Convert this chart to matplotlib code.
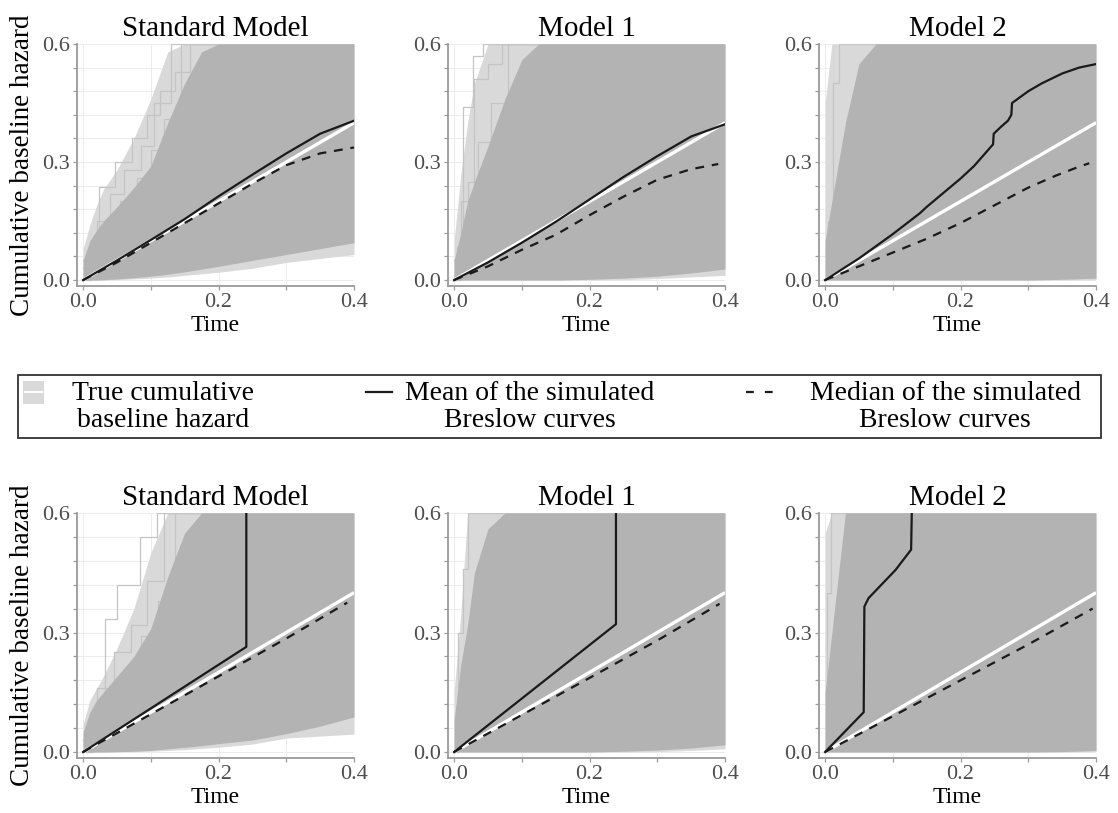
import numpy as np
import matplotlib
matplotlib.use('Agg')
import matplotlib.pyplot as plt
from matplotlib.patches import Rectangle
from matplotlib.lines import Line2D

plt.rcParams['font.family'] = ['Liberation Serif', 'DejaVu Serif']

# time grid for the envelopes of the simulated Breslow curves
t_band = [0, 0.01, 0.02, 0.03, 0.05, 0.075, 0.1, 0.125, 0.15, 0.175, 0.2, 0.25, 0.3, 0.35, 0.4]

# top row (first scenario): dense / sparse envelopes
std1_hi = [0.05, 0.10, 0.127, 0.15, 0.186, 0.235, 0.29, 0.40, 0.50, 0.58, 0.6, 0.6, 0.6, 0.6, 0.6]
std1_sp = [0.08, 0.14, 0.19, 0.23, 0.28, 0.36, 0.46, 0.58, 0.60, 0.60, 0.6, 0.6, 0.6, 0.6, 0.6]
std1_lo = [0, 0, 0, 0.001, 0.003, 0.006, 0.010, 0.015, 0.021, 0.028, 0.035, 0.050, 0.065, 0.080, 0.095]
std1_splo = [0, 0, 0, 0, 0.001, 0.003, 0.005, 0.008, 0.012, 0.016, 0.020, 0.030, 0.045, 0.055, 0.065]
m1a_hi = [0.05, 0.12, 0.20, 0.25, 0.34, 0.46, 0.56, 0.60, 0.6, 0.6, 0.6, 0.6, 0.6, 0.6, 0.6]
m1a_sp = [0.10, 0.27, 0.40, 0.50, 0.60, 0.60, 0.60, 0.60, 0.6, 0.6, 0.6, 0.6, 0.6, 0.6, 0.6]
m1a_lo = [0, 0, 0, 0, 0, 0, 0, 0, 0, 0.001, 0.002, 0.005, 0.010, 0.018, 0.028]
m1a_splo = [0, 0, 0, 0, 0, 0, 0, 0, 0, 0, 0, 0.001, 0.004, 0.008, 0.012]
m2a_hi = [0.10, 0.20, 0.30, 0.40, 0.55, 0.60, 0.6, 0.6, 0.6, 0.6, 0.6, 0.6, 0.6, 0.6, 0.6]
m2a_sp = [0.45, 0.60, 0.60, 0.60, 0.60, 0.60, 0.6, 0.6, 0.6, 0.6, 0.6, 0.6, 0.6, 0.6, 0.6]
m2a_lo = [0, 0, 0, 0, 0, 0, 0, 0, 0, 0, 0, 0, 0, 0.002, 0.005]
m2a_splo = [0, 0, 0, 0, 0, 0, 0, 0, 0, 0, 0, 0, 0, 0, 0.001]

# bottom row (second scenario)
std2_hi = [0.05, 0.10, 0.13, 0.15, 0.19, 0.24, 0.31, 0.44, 0.55, 0.60, 0.6, 0.6, 0.6, 0.6, 0.6]
std2_sp = [0.07, 0.13, 0.16, 0.19, 0.26, 0.36, 0.50, 0.60, 0.60, 0.60, 0.6, 0.6, 0.6, 0.6, 0.6]
std2_lo = [0, 0, 0, 0, 0.001, 0.002, 0.004, 0.008, 0.012, 0.016, 0.021, 0.030, 0.046, 0.065, 0.088]
std2_splo = [0, 0, 0, 0, 0, 0.001, 0.002, 0.004, 0.006, 0.009, 0.012, 0.020, 0.035, 0.040, 0.045]
m1b_hi = [0.08, 0.22, 0.32, 0.45, 0.56, 0.60, 0.6, 0.6, 0.6, 0.6, 0.6, 0.6, 0.6, 0.6, 0.6]
m1b_sp = [0.15, 0.35, 0.60, 0.60, 0.60, 0.60, 0.6, 0.6, 0.6, 0.6, 0.6, 0.6, 0.6, 0.6, 0.6]
m1b_lo = [0, 0, 0, 0, 0, 0, 0, 0, 0, 0, 0, 0.002, 0.005, 0.010, 0.018]
m1b_splo = [0, 0, 0, 0, 0, 0, 0, 0, 0, 0, 0, 0, 0.001, 0.004, 0.008]
m2b_hi = [0.15, 0.30, 0.45, 0.60, 0.60, 0.60, 0.6, 0.6, 0.6, 0.6, 0.6, 0.6, 0.6, 0.6, 0.6]
m2b_sp = [0.55, 0.60, 0.60, 0.60, 0.60, 0.60, 0.6, 0.6, 0.6, 0.6, 0.6, 0.6, 0.6, 0.6, 0.6]
m2b_lo = [0, 0, 0, 0, 0, 0, 0, 0, 0, 0, 0, 0, 0, 0.001, 0.004]
m2b_splo = [0, 0, 0, 0, 0, 0, 0, 0, 0, 0, 0, 0, 0, 0, 0.001]

# a few stray simulated curves visible outside the dense cloud (step functions)
std1_out1_t = [0, 0.012, 0.024, 0.047, 0.072, 0.094, 0.114, 0.136, 0.158]
std1_out1_y = [0, 0.09, 0.237, 0.30, 0.36, 0.42, 0.48, 0.53, 0.60]
std1_out2_t = [0, 0.02, 0.04, 0.06, 0.085, 0.105, 0.13]
std1_out2_y = [0.05, 0.15, 0.22, 0.28, 0.34, 0.45, 0.60]
std1_out3_t = [0, 0.03, 0.055, 0.08, 0.1, 0.12, 0.145]
std1_out3_y = [0.03, 0.12, 0.2, 0.26, 0.33, 0.41, 0.60]
m1a_out1_t = [0, 0.004, 0.013, 0.028, 0.043]
m1a_out1_y = [0, 0.085, 0.44, 0.57, 0.60]
m1a_out2_t = [0, 0.01, 0.03, 0.05, 0.07]
m1a_out2_y = [0, 0.20, 0.51, 0.55, 0.60]
m1a_out3_t = [0, 0.02, 0.035, 0.055, 0.08]
m1a_out3_y = [0.05, 0.25, 0.35, 0.45, 0.60]
m2a_out1_t = [0, 0.004, 0.012, 0.02]
m2a_out1_y = [0, 0.15, 0.50, 0.60]
std2_out1_t = [0, 0.015, 0.032, 0.05, 0.084, 0.109]
std2_out1_y = [0, 0.10, 0.335, 0.42, 0.54, 0.60]
std2_out2_t = [0, 0.02, 0.045, 0.07, 0.095, 0.12]
std2_out2_y = [0.03, 0.16, 0.25, 0.32, 0.43, 0.60]
std2_out3_t = [0, 0.035, 0.06, 0.085, 0.11, 0.135]
std2_out3_y = [0.02, 0.14, 0.21, 0.29, 0.38, 0.60]
m1b_out1_t = [0, 0.006, 0.013, 0.02]
m1b_out1_y = [0, 0.30, 0.46, 0.60]
m2b_out1_t = [0, 0.003, 0.008]
m2b_out1_y = [0, 0.40, 0.60]

# true cumulative baseline hazard
true_t = [0, 0.4]
true_y = [0, 0.4]

# mean and median of the simulated Breslow curves
std1_mean_t = [0, 0.05, 0.1, 0.15, 0.2, 0.25, 0.3, 0.35, 0.4]
std1_mean_y = [0, 0.05, 0.102, 0.155, 0.213, 0.268, 0.322, 0.372, 0.405]
std1_med_t = [0, 0.05, 0.1, 0.15, 0.2, 0.25, 0.3, 0.35, 0.4]
std1_med_y = [0, 0.045, 0.095, 0.145, 0.195, 0.245, 0.292, 0.322, 0.337]
m1a_mean_t = [0, 0.05, 0.1, 0.15, 0.2, 0.25, 0.3, 0.35, 0.4]
m1a_mean_y = [0, 0.045, 0.095, 0.148, 0.205, 0.262, 0.315, 0.365, 0.396]
m1a_med_t = [0, 0.05, 0.1, 0.15, 0.2, 0.25, 0.3, 0.35, 0.39]
m1a_med_y = [0, 0.035, 0.077, 0.115, 0.165, 0.212, 0.255, 0.282, 0.295]
m2a_mean_t = [0, 0.05, 0.1, 0.14, 0.15, 0.2, 0.22, 0.248, 0.249, 0.26, 0.27, 0.275, 0.276, 0.3, 0.32, 0.35, 0.375, 0.4]
m2a_mean_y = [0, 0.055, 0.117, 0.17, 0.186, 0.258, 0.29, 0.345, 0.372, 0.39, 0.405, 0.42, 0.45, 0.48, 0.5, 0.525, 0.54, 0.549]
m2a_med_t = [0, 0.05, 0.1, 0.15, 0.2, 0.25, 0.3, 0.34, 0.37, 0.39]
m2a_med_y = [0, 0.035, 0.07, 0.105, 0.145, 0.19, 0.235, 0.265, 0.285, 0.297]

std2_mean_t = [0, 0.241, 0.241]
std2_mean_y = [0, 0.264, 0.6]
std2_med_t = [0, 0.1, 0.2, 0.3, 0.39]
std2_med_y = [0, 0.095, 0.19, 0.285, 0.375]
m1b_mean_t = [0, 0.239, 0.239]
m1b_mean_y = [0, 0.321, 0.6]
m1b_med_t = [0, 0.1, 0.2, 0.3, 0.392]
m1b_med_y = [0, 0.093, 0.186, 0.28, 0.372]
m2b_mean_t = [0, 0.057, 0.058, 0.064, 0.104, 0.127, 0.128]
m2b_mean_y = [0, 0.1, 0.365, 0.386, 0.457, 0.508, 0.6]
m2b_med_t = [0, 0.1, 0.2, 0.3, 0.395]
m2b_med_y = [0, 0.09, 0.18, 0.27, 0.36]

titles = ['Standard Model', 'Model 1', 'Model 2']

DENSE = '#b3b3b3'
SPARSE = '#d9d9d9'
STRAY = '#c4c4c4'


def draw_panel(ax, hi, sp, lo, splo, strays, mean_t, mean_y, med_t, med_y, title, left):
    ax.fill_between(t_band, splo, sp, color=SPARSE, lw=0, zorder=1)
    ax.fill_between(t_band, lo, hi, color=DENSE, lw=0, zorder=2)
    for st, sy in strays:
        ax.step(st + [0.4], sy + [sy[-1]], where='post', color=STRAY, lw=0.9, zorder=1.5)
    ax.plot(true_t, true_y, color='white', lw=2.4, zorder=3, solid_capstyle='butt')
    ax.plot(med_t, med_y, color='#1a1a1a', lw=1.6, dashes=(4, 3.5), zorder=4)
    ax.plot(mean_t, mean_y, color='#1a1a1a', lw=1.6, zorder=5)

    ax.set_xlim(-0.009, 0.4)
    ax.set_ylim(-0.015, 0.6)
    ax.set_xticks([0, 0.2, 0.4])
    ax.set_xticklabels(['0.0', '0.2', '0.4'])
    ax.set_xticks([0.1, 0.3], minor=True)
    ax.set_yticks([0, 0.3, 0.6])
    ax.set_yticklabels(['0.0', '0.3', '0.6'])
    ax.set_yticks([0.06, 0.12, 0.18, 0.24, 0.36, 0.42, 0.48, 0.54], minor=True)
    ax.grid(True, which='both', color='#ececec', lw=0.7, zorder=0)
    ax.set_axisbelow(True)
    for s in ['top', 'right']:
        ax.spines[s].set_visible(False)
    for s in ['left', 'bottom']:
        ax.spines[s].set_color('#9a9a9a')
        ax.spines[s].set_linewidth(1.3)
    ax.tick_params(which='both', colors='#9a9a9a', labelcolor='#4d4d4d', labelsize=16,
                   length=3, width=0.9, pad=2)
    ax.set_title(title, fontsize=21, pad=6)
    ax.set_xlabel('Time', fontsize=17, labelpad=2)
    if left:
        ax.set_ylabel('Cumulative baseline hazard', fontsize=19.5, labelpad=5)


fig = plt.figure(figsize=(11.18, 8.13), dpi=100)
W, H = 1118.0, 813.0
lefts = [77, 448, 819]
top_rows = [(44, 286), (513, 758)]


def make_ax(col, row):
    x0 = lefts[col]
    ytop, ybot = top_rows[row]
    return fig.add_axes([x0 / W, 1 - ybot / H, 277 / W, (ybot - ytop) / H])


panels = [
    (0, 0, std1_hi, std1_sp, std1_lo, std1_splo,
     [(std1_out1_t, std1_out1_y), (std1_out2_t, std1_out2_y), (std1_out3_t, std1_out3_y)],
     std1_mean_t, std1_mean_y, std1_med_t, std1_med_y),
    (1, 0, m1a_hi, m1a_sp, m1a_lo, m1a_splo,
     [(m1a_out1_t, m1a_out1_y), (m1a_out2_t, m1a_out2_y), (m1a_out3_t, m1a_out3_y)],
     m1a_mean_t, m1a_mean_y, m1a_med_t, m1a_med_y),
    (2, 0, m2a_hi, m2a_sp, m2a_lo, m2a_splo,
     [(m2a_out1_t, m2a_out1_y)],
     m2a_mean_t, m2a_mean_y, m2a_med_t, m2a_med_y),
    (0, 1, std2_hi, std2_sp, std2_lo, std2_splo,
     [(std2_out1_t, std2_out1_y), (std2_out2_t, std2_out2_y), (std2_out3_t, std2_out3_y)],
     std2_mean_t, std2_mean_y, std2_med_t, std2_med_y),
    (1, 1, m1b_hi, m1b_sp, m1b_lo, m1b_splo,
     [(m1b_out1_t, m1b_out1_y)],
     m1b_mean_t, m1b_mean_y, m1b_med_t, m1b_med_y),
    (2, 1, m2b_hi, m2b_sp, m2b_lo, m2b_splo,
     [(m2b_out1_t, m2b_out1_y)],
     m2b_mean_t, m2b_mean_y, m2b_med_t, m2b_med_y),
]

for col, row, hi, sp, lo, splo, strays, mt, my, dt, dy in panels:
    ax = make_ax(col, row)
    draw_panel(ax, hi, sp, lo, splo, strays, mt, my, dt, dy, titles[col], col == 0)


# legend drawn as a framed strip across the figure
def fx(px):
    return px / W


def fy(py):
    return 1 - py / H


fig.patches.append(Rectangle((fx(18), fy(438)), fx(1101) - fx(18), fy(375) - fy(438),
                             transform=fig.transFigure, fill=False, ec='#333333', lw=1.3))
fig.patches.append(Rectangle((fx(23), fy(404)), fx(44) - fx(23), fy(381) - fy(404),
                             transform=fig.transFigure, fc='#d9d9d9', ec='none'))
fig.lines.append(Line2D([fx(25), fx(42)], [fy(392.5), fy(392.5)], transform=fig.transFigure,
                        color='white', lw=1.5))
fig.lines.append(Line2D([fx(366), fx(392)], [fy(392), fy(392)], transform=fig.transFigure,
                        color='#1a1a1a', lw=1.6))
fig.lines.append(Line2D([fx(746), fx(774)], [fy(392), fy(392)], transform=fig.transFigure,
                        color='#1a1a1a', lw=1.6, dashes=(3.5, 5)))

legend_labels = ['True cumulative\nbaseline hazard',
                 'Mean of the simulated\nBreslow curves',
                 'Median of the simulated\nBreslow curves']
legend_x = [163, 530, 945]
for lab, x in zip(legend_labels, legend_x):
    fig.text(fx(x), fy(407), lab, ha='center', va='center', multialignment='center',
             fontsize=20, linespacing=1.1)

fig.savefig('out.png', dpi=100)
